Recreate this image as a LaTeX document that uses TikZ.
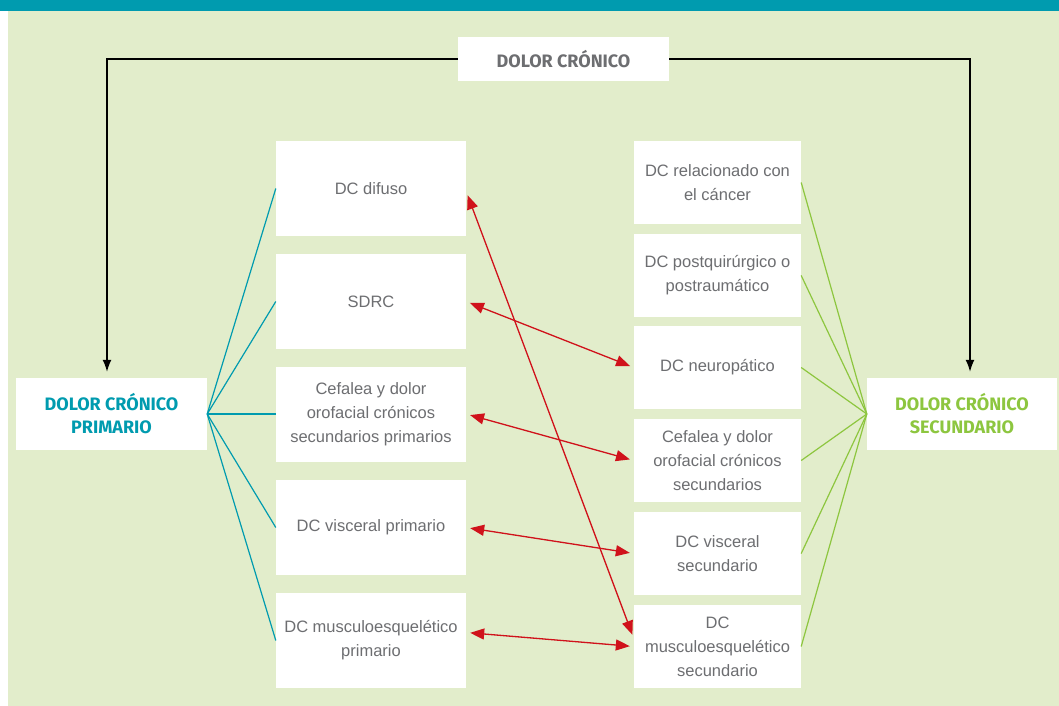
\documentclass[tikz,border=0pt]{standalone}
\usepackage{fontspec}
\setmainfont{Liberation Sans}
\newfontfamily\headfont{Fira Sans}
\usetikzlibrary{positioning,arrows.meta,calc}
\definecolor{DCteal}{HTML}{009BAF}
\definecolor{DCgreen}{HTML}{8DC63F}
\definecolor{DCbg}{HTML}{E2EDCB}
\definecolor{DCgray}{HTML}{6D6E71}
\definecolor{DCred}{HTML}{D0121B}
\tikzset{
  typebox/.style={fill=white, align=center, inner sep=0pt, text=DCgray, font=\fontsize{16.5}{24}\selectfont},
  primbox/.style={typebox, minimum width=190pt, minimum height=95pt},
  secbox/.style={typebox, minimum width=167pt, minimum height=83pt},
  headbox/.style={fill=white, align=center, inner sep=0pt, font=\headfont\fontsize{18}{23}\selectfont\bfseries},
  mainarr/.style={-{Latex[length=12pt,width=9pt]}, line width=1.4pt, draw=black, shorten >=6pt},
  primline/.style={draw=DCteal, line width=1.2pt},
  secline/.style={draw=DCgreen, line width=1.2pt},
  linkarr/.style={{Triangle[length=14pt,width=11pt]}-{Triangle[length=14pt,width=11pt]}, line width=1.3pt, draw=DCred, fill=DCred, shorten <=4pt, shorten >=4pt}
}
\begin{document}
\begin{tikzpicture}[x=1pt,y=-1pt]
\useasboundingbox (0,0) rectangle (1059,706);
\fill[DCbg] (8,11) rectangle (1059,706);
\fill[DCteal] (0,0) rectangle (1059,11);

\node[headbox, text=DCgray, minimum width=211pt, minimum height=44pt] (dc) at (563.5,59) {DOLOR CRÓNICO};
\node[headbox, text=DCteal, minimum width=191pt, minimum height=72pt] (prim) at (111.5,414) {DOLOR CRÓNICO\\PRIMARIO};
\node[headbox, text=DCgreen, minimum width=190pt, minimum height=72pt] (sec) at (962,414) {DOLOR CRÓNICO\\SECUNDARIO};

% primarios
\node[primbox] (difuso) at (371,188.5) {DC difuso};
\node[primbox] (sdrc) at (371,301.5) {SDRC};
\node[primbox] (cefprim) at (371,414) {Cefalea y dolor\\orofacial crónicos\\secundarios primarios};
\node[primbox] (viscprim) at (371,527.5) {DC visceral primario};
\node[primbox] (musprim) at (371,640.5) {DC musculoesquelético\\primario};

% secundarios
\node[secbox] (cancer) at (717.5,182.5) {DC relacionado con\\el cáncer};
\node[secbox] (postq) at (717.5,275.5) {DC postquirúrgico o\\postraumático};
\node[secbox] (neuro) at (717.5,367.5) {DC neuropático};
\node[secbox] (cefsec) at (717.5,460.5) {Cefalea y dolor\\orofacial crónicos\\secundarios};
\node[secbox] (viscsec) at (717.5,553.5) {DC visceral\\secundario};
\node[secbox] (mussec) at (717.5,646.5) {DC\\musculoesquelético\\secundario};

\draw[mainarr] (dc.west) -| ($(prim.north)+(-4.5,0)$);
\draw[mainarr] (dc.east) -| ($(sec.north)+(8,0)$);

\foreach \n in {difuso,sdrc,cefprim,viscprim,musprim}
  \draw[primline] (prim.east) -- (\n.west);
\foreach \n in {cancer,postq,neuro,cefsec,viscsec,mussec}
  \draw[secline] (sec.west) -- (\n.east);

\draw[linkarr] ($(difuso.east)+(0,3)$) -- ($(mussec.west)+(0,-8)$);
\draw[linkarr] (sdrc.east) -- (neuro.west);
\draw[linkarr] (cefprim.east) -- (cefsec.west);
\draw[linkarr] (viscprim.east) -- (viscsec.west);
\draw[linkarr] ($(musprim.east)+(0,-8)$) -- (mussec.west);
\end{tikzpicture}
\end{document}
